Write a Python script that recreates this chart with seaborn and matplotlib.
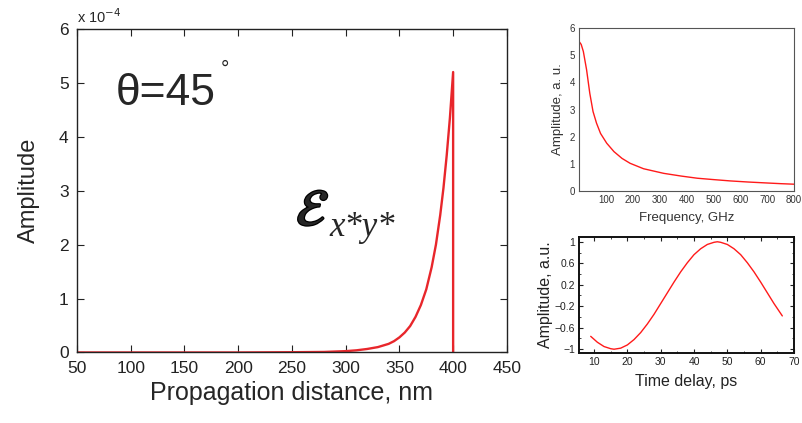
import numpy as np
import pandas as pd
import seaborn as sns
import matplotlib.pyplot as plt
import matplotlib.patheffects as pe
from matplotlib.ticker import MultipleLocator

# main panel: amplitude vs propagation distance (units of 1e-4)
dist_nm = [50, 100, 150, 200, 250, 280, 300, 310, 320, 330, 340, 345, 350, 355, 360,
           365, 370, 375, 380, 384, 388, 391, 394, 397, 400, 400]
amp_e4 = [0.0, 0.0, 0.0, 0.0, 0.005, 0.01, 0.025, 0.04, 0.065, 0.10, 0.16, 0.21, 0.28,
          0.37, 0.49, 0.66, 0.88, 1.17, 1.58, 2.00, 2.55, 3.05, 3.65, 4.35, 5.2, 0.0]

# top right: spectrum
freq_ghz = [0, 8, 16, 28, 40, 52, 65, 80, 103, 130, 160, 190, 240, 315, 380, 440,
            500, 564, 630, 689, 750, 800]
spec_amp = [5.51, 5.40, 5.14, 4.47, 3.60, 2.93, 2.50, 2.12, 1.76, 1.45, 1.20, 1.02,
            0.82, 0.65, 0.55, 0.47, 0.42, 0.37, 0.33, 0.30, 0.27, 0.25]

# bottom right: time trace
delay_ps = [9, 11, 13, 15, 16, 18, 20, 22, 24, 26, 28, 30, 32, 34, 36, 38, 40, 42, 44,
            46, 47, 48, 50, 52, 54, 56, 58, 60, 62, 64, 66.5]
trace_amp = [-0.76, -0.87, -0.95, -0.99, -1.0, -0.98, -0.92, -0.82, -0.69, -0.53, -0.35,
             -0.15, 0.05, 0.25, 0.44, 0.61, 0.76, 0.87, 0.95, 0.99, 1.0, 0.99, 0.95,
             0.87, 0.76, 0.61, 0.44, 0.25, 0.05, -0.15, -0.38]

sns.set_style("ticks")
plt.rcParams['font.family'] = ['Liberation Sans', 'DejaVu Sans']
plt.rcParams['axes.unicode_minus'] = True

fig = plt.figure(figsize=(8.02, 4.23), dpi=100)

# main panel
ax = fig.add_axes([0.096, 0.1667, 0.536, 0.765])
main_df = pd.DataFrame({"x": dist_nm, "y": amp_e4})
sns.lineplot(data=main_df, x="x", y="y", sort=False, estimator=None,
             color="#e8262b", linewidth=1.7, ax=ax)
ax.set_xlim(50, 450)
ax.set_ylim(0, 6)
ax.set_xticks(range(50, 451, 50))
ax.set_yticks(range(0, 7))
ax.tick_params(direction="in", top=True, right=True, labelsize=12.5, length=5,
               width=0.8, colors="#222222", pad=6)
for s in ax.spines.values():
    s.set_visible(True)
    s.set_color("#222222")
    s.set_linewidth(1.0)
ax.set_xlabel("Propagation distance, nm", fontsize=18, labelpad=4)
ax.set_ylabel("Amplitude", fontsize=17, labelpad=14)
ax.text(0.0, 1.01, r"x 10$^{-4}$", transform=ax.transAxes, fontsize=10.5,
        ha="left", va="bottom")
ax.text(0.09, 0.80, "θ=45", transform=ax.transAxes, fontsize=32, ha="left",
        va="center")
ax.text(0.335, 0.875, "°", transform=ax.transAxes, fontsize=15, ha="left",
        va="center")
ax.text(0.51, 0.435, r"$\mathcal{E}$", transform=ax.transAxes, fontsize=37,
        ha="left", va="center", math_fontfamily="stix",
        path_effects=[pe.withStroke(linewidth=1.8, foreground="black")])
ax.text(0.588, 0.385, "x*y*", transform=ax.transAxes, fontsize=25, ha="left",
        va="center", family="Liberation Serif", style="italic")

# top right panel
ax2 = fig.add_axes([0.722, 0.5485, 0.268, 0.385])
spec_df = pd.DataFrame({"f": freq_ghz, "a": spec_amp})
sns.lineplot(data=spec_df, x="f", y="a", color="#ff1a1a", linewidth=1.0, ax=ax2)
ax2.set_xlim(0, 800)
ax2.set_ylim(0, 6)
ax2.set_xticks(range(100, 801, 100))
ax2.set_yticks(range(0, 7))
ax2.tick_params(length=0, labelsize=7, colors="#333333", pad=3)
for s in ax2.spines.values():
    s.set_visible(True)
    s.set_color("#555555")
    s.set_linewidth(0.8)
ax2.set_xlabel("Frequency, GHz", fontsize=9.5, color="#333333", labelpad=5)
ax2.set_ylabel("Amplitude, a. u.", fontsize=9.5, color="#333333", labelpad=4)

# bottom right panel
ax3 = fig.add_axes([0.722, 0.1655, 0.268, 0.274])
trace_df = pd.DataFrame({"t": delay_ps, "a": trace_amp})
sns.lineplot(data=trace_df, x="t", y="a", color="#ff1a1a", linewidth=1.0, ax=ax3)
ax3.set_xlim(5.5, 70)
ax3.set_ylim(-1.07, 1.087)
ax3.set_xticks(range(10, 71, 10))
ax3.set_yticks([1, 0.6, 0.2, -0.2, -0.6, -1])
ax3.set_yticklabels(["1", "0.6", "0.2", "\u22120.2", "\u22120.6", "\u22121"])
ax3.yaxis.set_minor_locator(MultipleLocator(0.2))
ax3.xaxis.set_minor_locator(MultipleLocator(5))
ax3.tick_params(which="both", direction="in", top=True, right=True,
                labelsize=7.5, colors="#222222", pad=3)
ax3.tick_params(which="major", length=3)
ax3.tick_params(which="minor", length=1.5)
for s in ax3.spines.values():
    s.set_visible(True)
    s.set_color("#111111")
    s.set_linewidth(1.4)
ax3.set_xlabel("Time delay, ps", fontsize=11.5, color="#222222", labelpad=5)
ax3.set_ylabel("Amplitude, a.u.", fontsize=11.5, color="#222222", labelpad=1)

fig.savefig("out.png", dpi=100)
